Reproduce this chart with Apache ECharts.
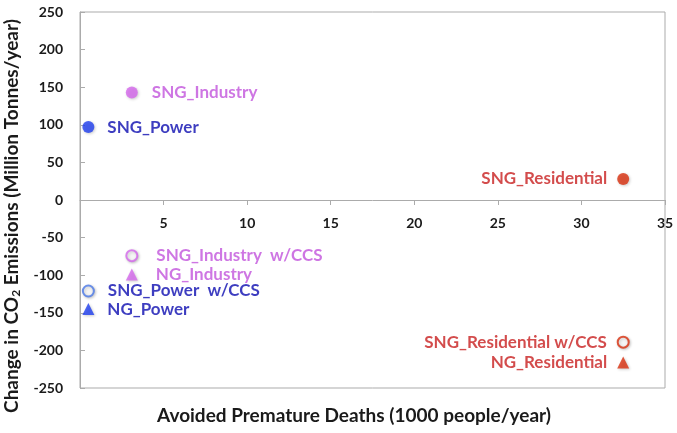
<!DOCTYPE html>
<html>
<head>
<meta charset="utf-8">
<script src="https://cdn.jsdelivr.net/npm/echarts@6/dist/echarts.min.js"></script>
<style>
html,body{margin:0;padding:0;background:#fff;}
#chart{width:677px;height:433px;}
</style>
</head>
<body>
<div id="chart"></div>
<script>
// ---- data ----
const pointNames = [
  'SNG_Power', 'SNG_Industry', 'SNG_Residential',
  'SNG_Industry  w/CCS', 'NG_Industry',
  'SNG_Power  w/CCS', 'NG_Power',
  'SNG_Residential w/CCS', 'NG_Residential'
];
const avoidedDeaths = [0.5, 3.1, 32.5, 3.1, 3.1, 0.5, 0.5, 32.5, 32.5];
const co2Change = [97, 143, 28, -74, -99, -121, -145, -189, -216];
const xTicks = [0, 5, 10, 15, 20, 25, 30, 35];
const yTicks = [-250, -200, -150, -100, -50, 0, 50, 100, 150, 200, 250];

// ---- styles ----
const FONT = 'Lato';
const GRID = {left: 80, right: 12, top: 12, bottom: 45};
const styles = {
  'SNG_Power':            {symbol:'circle',   fill:'#1f3ff0', stroke:null, label:'#0c0cb0', pos:'right', dist:13},
  'SNG_Industry':         {symbol:'circle',   fill:'#d466ec', stroke:null, label:'#c254dc', pos:'right', dist:14},
  'SNG_Residential':      {symbol:'circle',   fill:'#d9300e', stroke:null, label:'#c81f1f', pos:'left',  dist:10},
  'SNG_Industry  w/CCS':  {symbol:'circle',   fill:'#ffffff', stroke:'#d466ec', label:'#c254dc', pos:'right', dist:18},
  'NG_Industry':          {symbol:'triangle', fill:'#d466ec', stroke:null, label:'#c254dc', pos:'right', dist:18},
  'SNG_Power  w/CCS':     {symbol:'circle',   fill:'#ffffff', stroke:'#4a78e8', label:'#0c0cb0', pos:'right', dist:13},
  'NG_Power':             {symbol:'triangle', fill:'#1f3ff0', stroke:null, label:'#0c0cb0', pos:'right', dist:13},
  'SNG_Residential w/CCS':{symbol:'circle',   fill:'#ffffff', stroke:'#d9300e', label:'#c81f1f', pos:'left',  dist:10},
  'NG_Residential':       {symbol:'triangle', fill:'#d9300e', stroke:null, label:'#c81f1f', pos:'left',  dist:10}
};

const series = pointNames.map((name, i) => {
  const s = styles[name];
  return {
    type: 'scatter',
    name: name,
    symbol: s.symbol,
    symbolSize: s.stroke ? 11 : 12,
    data: [[avoidedDeaths[i], co2Change[i]]],
    itemStyle: {
      color: s.fill,
      borderColor: s.stroke || s.fill,
      borderWidth: s.stroke ? 2 : 0,
      shadowBlur: 3,
      shadowColor: 'rgba(0,0,0,0.25)',
      shadowOffsetX: 1,
      shadowOffsetY: 1
    },
    label: {
      show: true,
      formatter: name,
      position: s.pos,
      distance: s.dist,
      color: s.label,
      fontFamily: FONT,
      fontWeight: 'bold',
      fontSize: 17
    },
    emphasis: {disabled: true},
    z: 5
  };
});

// place the x axis at the y = 0 line of the plot
const plotH = 433 - GRID.top - GRID.bottom;
const yMin = yTicks[0], yMax = yTicks[yTicks.length - 1];
const zeroFromBottom = plotH * (0 - yMin) / (yMax - yMin);

const chart = echarts.init(document.getElementById('chart'), null, {renderer: 'canvas'});
chart.setOption({
  animation: false,
  backgroundColor: '#ffffff',
  grid: Object.assign({show: true, borderColor: '#ababab', borderWidth: 1}, GRID),
  xAxis: {
    type: 'value',
    position: 'bottom',
    offset: -zeroFromBottom,
    min: xTicks[0], max: xTicks[xTicks.length - 1], interval: 5,
    axisLine: {show: true, onZero: false, lineStyle: {color: '#ababab', width: 1}},
    axisTick: {show: true, inside: false, length: 5, lineStyle: {color: '#ababab'}},
    axisLabel: {
      margin: 16,
      fontFamily: FONT, fontWeight: 'bold', fontSize: 14, color: '#1a1a1a',
      formatter: v => (v === 0 ? '' : String(v))
    },
    splitLine: {show: false}
  },
  yAxis: {
    type: 'value',
    min: yMin, max: yMax, interval: 50,
    axisLine: {show: true, onZero: false, lineStyle: {color: '#ababab', width: 1}},
    axisTick: {show: true, inside: true, length: 5, lineStyle: {color: '#ababab'}},
    axisLabel: {
      margin: 17,
      fontFamily: FONT, fontWeight: 'bold', fontSize: 14, color: '#1a1a1a'
    },
    splitLine: {show: false}
  },
  title: {
    text: 'Avoided Premature Deaths (1000 people/year)',
    left: 152, top: 401,
    textStyle: {fontFamily: FONT, fontWeight: 'bold', fontSize: 19, color: '#1a1a1a'}
  },
  graphic: [{
    type: 'text',
    x: 12, y: 216,
    rotation: Math.PI / 2,
    style: {
      text: '{a|Change in CO}{s|2}{a| Emissions (Million Tonnes/year)}',
      rich: {
        a: {fontFamily: FONT, fontWeight: 'bold', fontSize: 19, fill: '#1a1a1a'},
        s: {fontFamily: FONT, fontWeight: 'bold', fontSize: 12, fill: '#1a1a1a', padding: [9, 0, 0, 0]}
      },
      align: 'center',
      verticalAlign: 'middle'
    }
  }],
  series: series
});
</script>
</body>
</html>
